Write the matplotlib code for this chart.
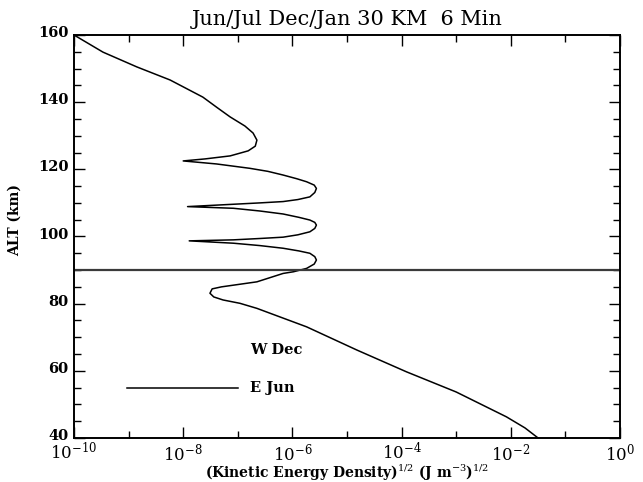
import matplotlib
matplotlib.use("Agg")
import matplotlib.pyplot as plt
import matplotlib.transforms as mtransforms
from matplotlib.ticker import FixedLocator, MultipleLocator, NullFormatter

# Altitude (km) and log10 of sqrt kinetic energy density
altitude = [160.0, 154.9, 150.5, 146.6, 141.5, 138.4, 135.6, 132.9, 130.8, 128.7,
            126.9, 125.5, 124.0, 123.1, 122.5,
            121.6, 120.3, 119.4, 118.3, 117.2, 116.3, 115.3, 114.3, 113.1, 111.8,
            111.0, 110.4, 110.0, 109.6, 108.9,
            108.4, 107.6, 106.7, 105.7, 104.9, 104.2, 103.4, 102.4, 101.4, 100.5,
            99.8, 99.4, 99.0, 98.7,
            98.0, 97.3, 96.5, 95.7, 95.0, 94.0, 93.0, 91.8, 90.5, 89.5,
            89.0, 87.8, 86.5, 85.0, 84.4, 83.1, 82.0, 81.1, 80.1, 78.6,
            73.1, 66.2, 59.7, 53.7, 46.3, 43.0, 40.0]
log_ke = [-10.0, -9.47, -8.85, -8.24, -7.64, -7.38, -7.14, -6.87, -6.72, -6.65,
          -6.68, -6.81, -7.14, -7.60, -8.00,
          -7.39, -6.78, -6.45, -6.17, -5.92, -5.74, -5.60, -5.56, -5.59, -5.68,
          -5.90, -6.17, -6.60, -7.08, -7.92,
          -7.08, -6.60, -6.17, -5.88, -5.68, -5.59, -5.56, -5.59, -5.68, -5.90,
          -6.17, -6.60, -7.08, -7.89,
          -7.08, -6.60, -6.17, -5.88, -5.68, -5.59, -5.56, -5.60, -5.74, -5.98,
          -6.17, -6.40, -6.65, -7.30, -7.47, -7.51, -7.44, -7.27, -6.96, -6.65,
          -5.74, -4.82, -3.91, -3.00, -2.08, -1.74, -1.50]
ke = [10.0 ** v for v in log_ke]

ref_alt = 90
title = "Jun/Jul Dec/Jan 30 KM  6 Min"
xlabel = r"(Kinetic Energy Density)$^{1/2}$ (J m$^{-3}$)$^{1/2}$"
ylabel = "ALT (km)"
legend_labels = ["W Dec", "E Jun"]
xmajor_exp = [-10, -8, -6, -4, -2, 0]
xminor_exp = [-9, -7, -5, -3, -1]

plt.rcParams['font.family'] = ['DejaVu Serif']
plt.rcParams['mathtext.fontset'] = 'dejavuserif'

fig = plt.figure(figsize=(6.43, 4.82), dpi=100)
ax = fig.add_axes([0.1151, 0.0913, 0.8491, 0.8361])

ax.plot(ke, altitude, color='black', lw=1.1)
ax.axhline(ref_alt, color='#3a3a3a', lw=1.6)

ax.set_xscale('log')
ax.set_xlim(1e-10, 1e0)
ax.set_ylim(40, 160)

ax.xaxis.set_major_locator(FixedLocator([10.0 ** e for e in xmajor_exp]))
ax.xaxis.set_minor_locator(FixedLocator([10.0 ** e for e in xminor_exp]))
ax.xaxis.set_minor_formatter(NullFormatter())
ax.set_xticklabels([r"$10^{%d}$" % e for e in xmajor_exp])
ax.yaxis.set_major_locator(MultipleLocator(20))
ax.yaxis.set_minor_locator(MultipleLocator(5))

ax.tick_params(which='both', direction='in', top=True, right=True, width=1.0)
ax.tick_params(which='major', length=8)
ax.tick_params(which='minor', length=5)
ax.tick_params(axis='x', which='major', labelsize=12, pad=3)
ax.tick_params(axis='y', which='major', labelsize=10.5, pad=4)
shift_up = mtransforms.ScaledTranslation(0, 2.5 / 72, fig.dpi_scale_trans)
for lab in ax.get_yticklabels():
    lab.set_fontweight('bold')
    lab.set_verticalalignment('center_baseline')
    lab.set_transform(lab.get_transform() + shift_up)
for sp in ax.spines.values():
    sp.set_linewidth(1.4)

ax.set_title(title, fontsize=15, pad=7)
ax.set_xlabel(xlabel, fontsize=10, fontweight='bold', va='center')
ax.xaxis.set_label_coords(0.5, -0.086)
ax.set_ylabel(ylabel, fontsize=10, fontweight='bold')
ax.yaxis.set_label_coords(-0.095, 0.54)

# legend-like annotation
ax.plot([0.097, 0.30], [0.125, 0.125], color='black', lw=1.1, transform=ax.transAxes)
ax.text(0.322, 0.218, legend_labels[0], transform=ax.transAxes, fontsize=10.5,
        fontweight='bold', va='center', ha='left')
ax.text(0.322, 0.125, legend_labels[1], transform=ax.transAxes, fontsize=10.5,
        fontweight='bold', va='center', ha='left')

fig.savefig("out.png", dpi=100)
